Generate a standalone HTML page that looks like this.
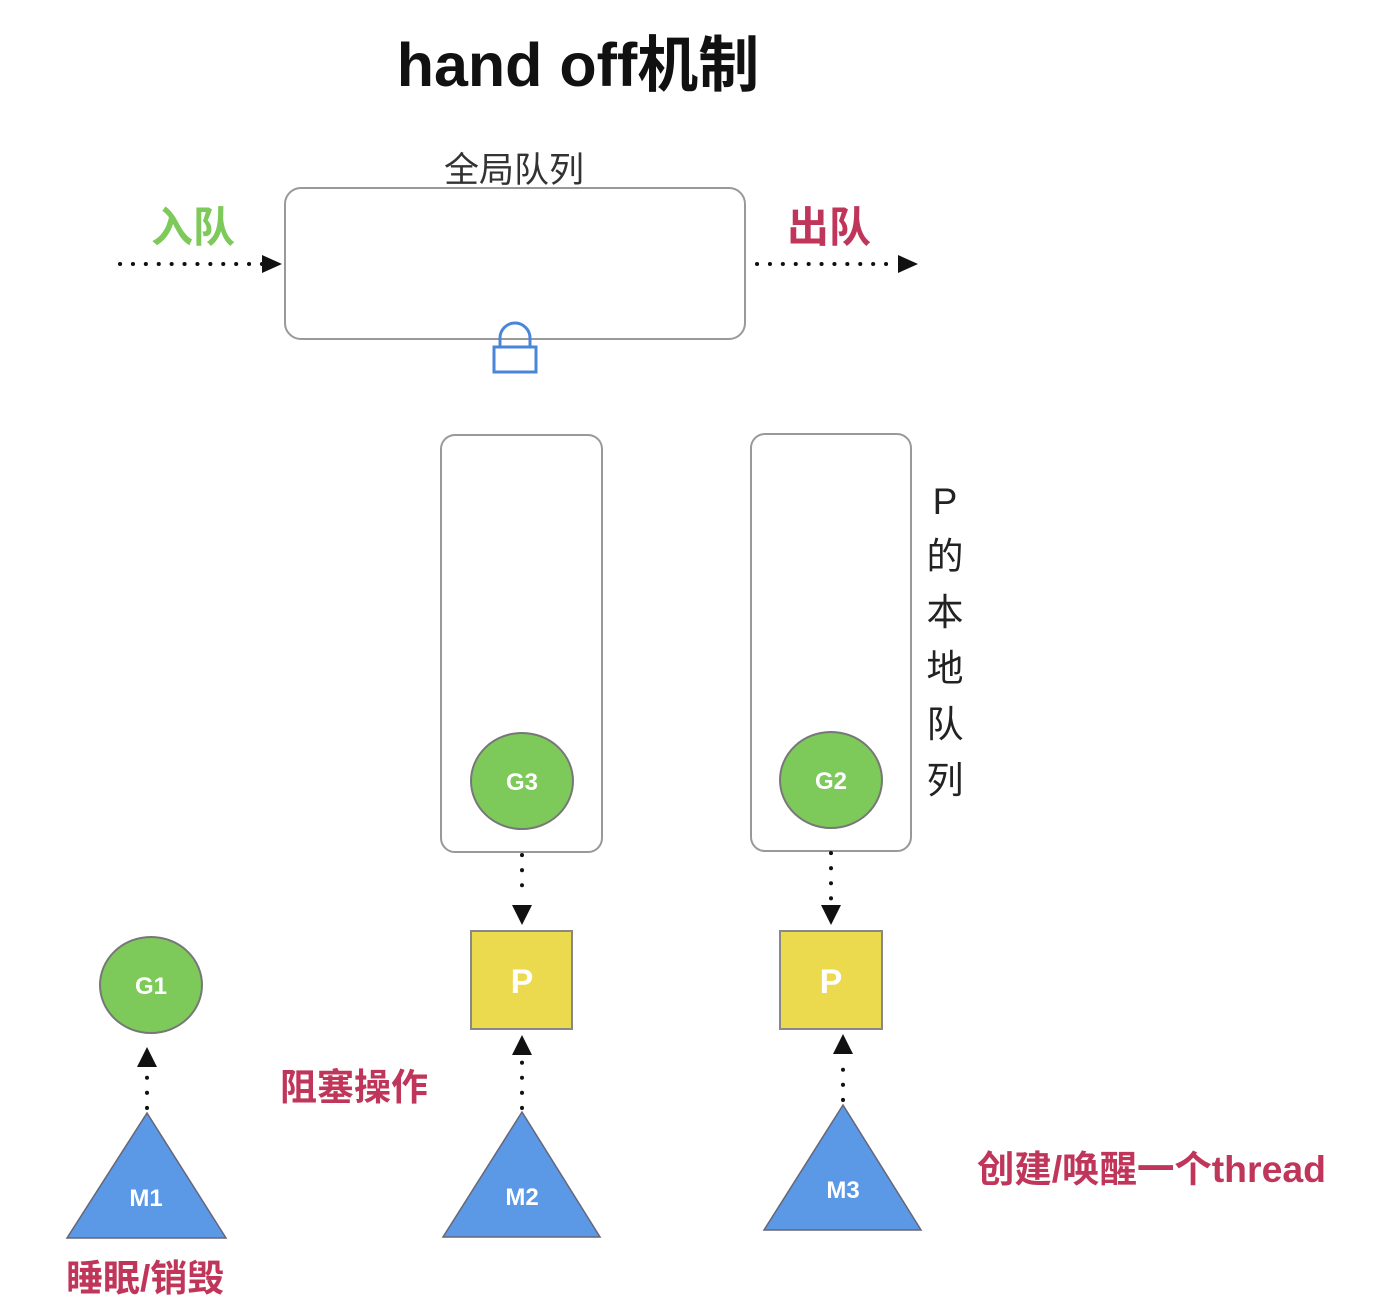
<!DOCTYPE html>
<html><head><meta charset="utf-8"><style>
html,body{margin:0;padding:0;background:#fff;}
svg{display:block;}
text{font-family:"Liberation Sans","Noto Sans CJK SC",sans-serif;}
</style></head><body>
<svg width="1374" height="1304" viewBox="0 0 1374 1304" xmlns="http://www.w3.org/2000/svg">
<text x="578" y="86" font-size="61" font-weight="bold" text-anchor="middle" fill="#111">hand off机制</text>
<text x="514" y="182" font-size="35" text-anchor="middle" fill="#333">全局队列</text>
<rect x="285" y="188" width="460" height="151" rx="16" fill="#fff" stroke="#999" stroke-width="2"/>
<text x="193" y="242" font-size="42" font-weight="bold" text-anchor="middle" fill="#7dc95a">入队</text>
<text x="829" y="242" font-size="42" font-weight="bold" text-anchor="middle" fill="#c0365a">出队</text>
<g fill="#111">
<line x1="120" y1="264" x2="262" y2="264" stroke="#111" stroke-width="4" stroke-dasharray="0.1 12.8" stroke-linecap="round"/>
<polygon points="262,255 282,264 262,273"/>
<line x1="757" y1="264" x2="898" y2="264" stroke="#111" stroke-width="4" stroke-dasharray="0.1 12.8" stroke-linecap="round"/>
<polygon points="898,255 918,264 898,273"/>
</g>
<path d="M500,346 v-8 a15,15 0 0 1 30,0 v8" fill="none" stroke="#4a86d8" stroke-width="3"/>
<rect x="494" y="347" width="42" height="25" fill="#fff" stroke="#4a86d8" stroke-width="3"/>
<rect x="441" y="435" width="161" height="417" rx="14" fill="#fff" stroke="#999" stroke-width="2"/>
<rect x="751" y="434" width="160" height="417" rx="14" fill="#fff" stroke="#999" stroke-width="2"/>
<g font-size="37" fill="#222" text-anchor="middle">
<text x="945" y="514">P</text><text x="945" y="569">的</text><text x="945" y="625">本</text>
<text x="945" y="681">地</text><text x="945" y="737">队</text><text x="945" y="793">列</text>
</g>
<g stroke="#777" stroke-width="2" fill="#7dc95a">
<ellipse cx="522" cy="781" rx="51" ry="48"/>
<ellipse cx="831" cy="780" rx="51" ry="48"/>
<ellipse cx="151" cy="985" rx="51" ry="48"/>
</g>
<g font-size="24" font-weight="bold" fill="#fff" text-anchor="middle">
<text x="522" y="790">G3</text><text x="831" y="789">G2</text><text x="151" y="994">G1</text>
</g>
<g stroke="#111" stroke-width="4" stroke-dasharray="0.1 15" stroke-linecap="round">
<line x1="522" y1="855" x2="522" y2="900"/>
<line x1="831" y1="853" x2="831" y2="900"/>
<line x1="147" y1="1108" x2="147" y2="1070"/>
<line x1="522" y1="1108" x2="522" y2="1058"/>
<line x1="843" y1="1100" x2="843" y2="1058"/>
</g>
<g fill="#111">
<polygon points="512,905 532,905 522,925"/>
<polygon points="821,905 841,905 831,925"/>
<polygon points="137,1067 157,1067 147,1047"/>
<polygon points="512,1055 532,1055 522,1035"/>
<polygon points="833,1054 853,1054 843,1034"/>
</g>
<g fill="#ebd94e" stroke="#888" stroke-width="2">
<rect x="471" y="931" width="101" height="98"/>
<rect x="780" y="931" width="102" height="98"/>
</g>
<g font-size="34" font-weight="bold" fill="#fff" text-anchor="middle">
<text x="522" y="993">P</text><text x="831" y="993">P</text>
</g>
<g fill="#5b98e6" stroke="#667" stroke-width="1.5">
<polygon points="147,1113 226,1238 67,1238"/>
<polygon points="522,1112 600,1237 443,1237"/>
<polygon points="843,1105 921,1230 764,1230"/>
</g>
<g font-size="24" font-weight="bold" fill="#fff" text-anchor="middle">
<text x="146" y="1206">M1</text><text x="522" y="1205">M2</text><text x="843" y="1198">M3</text>
</g>
<g font-size="37" font-weight="bold" fill="#c0365a">
<text x="280" y="1100">阻塞操作</text>
<text x="66" y="1291">睡眠/销毁</text>
<text x="977" y="1182" textLength="349" lengthAdjust="spacingAndGlyphs">创建/唤醒一个thread</text>
</g>
</svg>
</body></html>
